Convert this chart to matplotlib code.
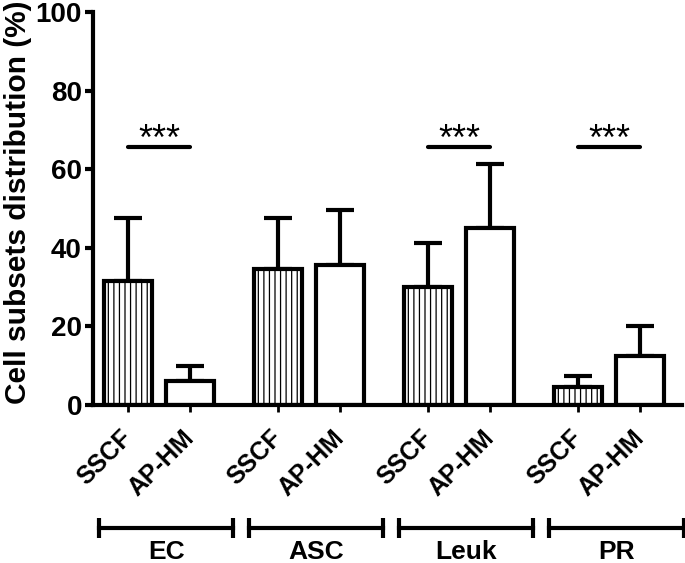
import matplotlib
matplotlib.use("Agg")
import matplotlib.pyplot as plt
import matplotlib.transforms as mtransforms
import numpy as np

plt.rcParams['font.family'] = ['Liberation Sans', 'DejaVu Sans']
plt.rcParams['font.weight'] = 'bold'
plt.rcParams['hatch.linewidth'] = 0.9

# data
groups = ["EC", "ASC", "Leuk", "PR"]
methods = ["SSCF", "AP-HM"]
sscf_mean = [31.5, 34.5, 30.0, 4.5]
sscf_err = [16.0, 13.0, 11.3, 3.0]
aphm_mean = [6.0, 35.5, 45.0, 12.5]
aphm_err = [3.8, 14.0, 16.3, 7.5]
signif = [True, False, True, True]
sig_y = 65.6

group_step = 2.42
x0 = np.arange(len(groups)) * group_step
x1 = x0 + 1

fig = plt.figure(figsize=(6.85, 5.63), dpi=100)
ax = fig.add_axes([93 / 685, 158 / 563, 589 / 685, 393 / 563])

bw = 0.78
lw = 3
ax.bar(x0, sscf_mean, bw, color='white', edgecolor='black', linewidth=lw,
       hatch='|||', zorder=2)
ax.bar(x1, aphm_mean, bw, color='white', edgecolor='black', linewidth=lw,
       zorder=2)
ax.errorbar(x0, sscf_mean, yerr=[np.zeros(4), sscf_err], fmt='none',
            ecolor='black', elinewidth=lw, capsize=10, capthick=lw, zorder=1)
ax.errorbar(x1, aphm_mean, yerr=[np.zeros(4), aphm_err], fmt='none',
            ecolor='black', elinewidth=lw, capsize=10, capthick=lw, zorder=1)

# significance bars
for a, b, s in zip(x0, x1, signif):
    if s:
        ax.plot([a, b], [sig_y, sig_y], color='black', lw=lw,
                solid_capstyle='round')
        ax.text((a + b) / 2, sig_y - 0.6, "***", ha='center', va='baseline',
                fontsize=26, fontweight='normal')

ax.set_xlim((93 - 128) / 62, (682 - 128) / 62)
ax.set_ylim(0, 100)
ax.set_yticks(np.arange(0, 101, 20))
ax.set_ylabel("Cell subsets distribution (%)", fontsize=21.5,
              fontweight='bold')
ax.yaxis.set_label_coords(-0.103, 0.515)

xt = np.ravel(np.column_stack([x0, x1]))
ax.set_xticks(xt)
ax.set_xticklabels(methods * len(groups), rotation=45, ha='right',
                   va='center', rotation_mode='anchor')

for side in ['top', 'right']:
    ax.spines[side].set_visible(False)
for side in ['left', 'bottom']:
    ax.spines[side].set_linewidth(lw)
ax.tick_params(axis='y', direction='out', length=6, width=lw, labelsize=20,
               pad=2)
ax.tick_params(axis='x', direction='out', length=5, width=2, labelsize=18,
               pad=16)

# group brackets under the axis
trans = mtransforms.blended_transform_factory(ax.transData, ax.transAxes)
by = -0.313
for a, b, g in zip(x0, x1, groups):
    s = a - 0.47
    e = b + 0.7
    ax.plot([s, e], [by, by], color='black', lw=lw, transform=trans,
            clip_on=False)
    ax.plot([s, e], [by, by], ls='none', marker='|', ms=14, mew=lw,
            color='black', transform=trans, clip_on=False)
    ax.text((s + e) / 2, 4 / 563, g, ha='center', va='baseline',
            fontsize=19, transform=mtransforms.blended_transform_factory(
                ax.transData, fig.transFigure))

fig.savefig("out.png", dpi=100)
